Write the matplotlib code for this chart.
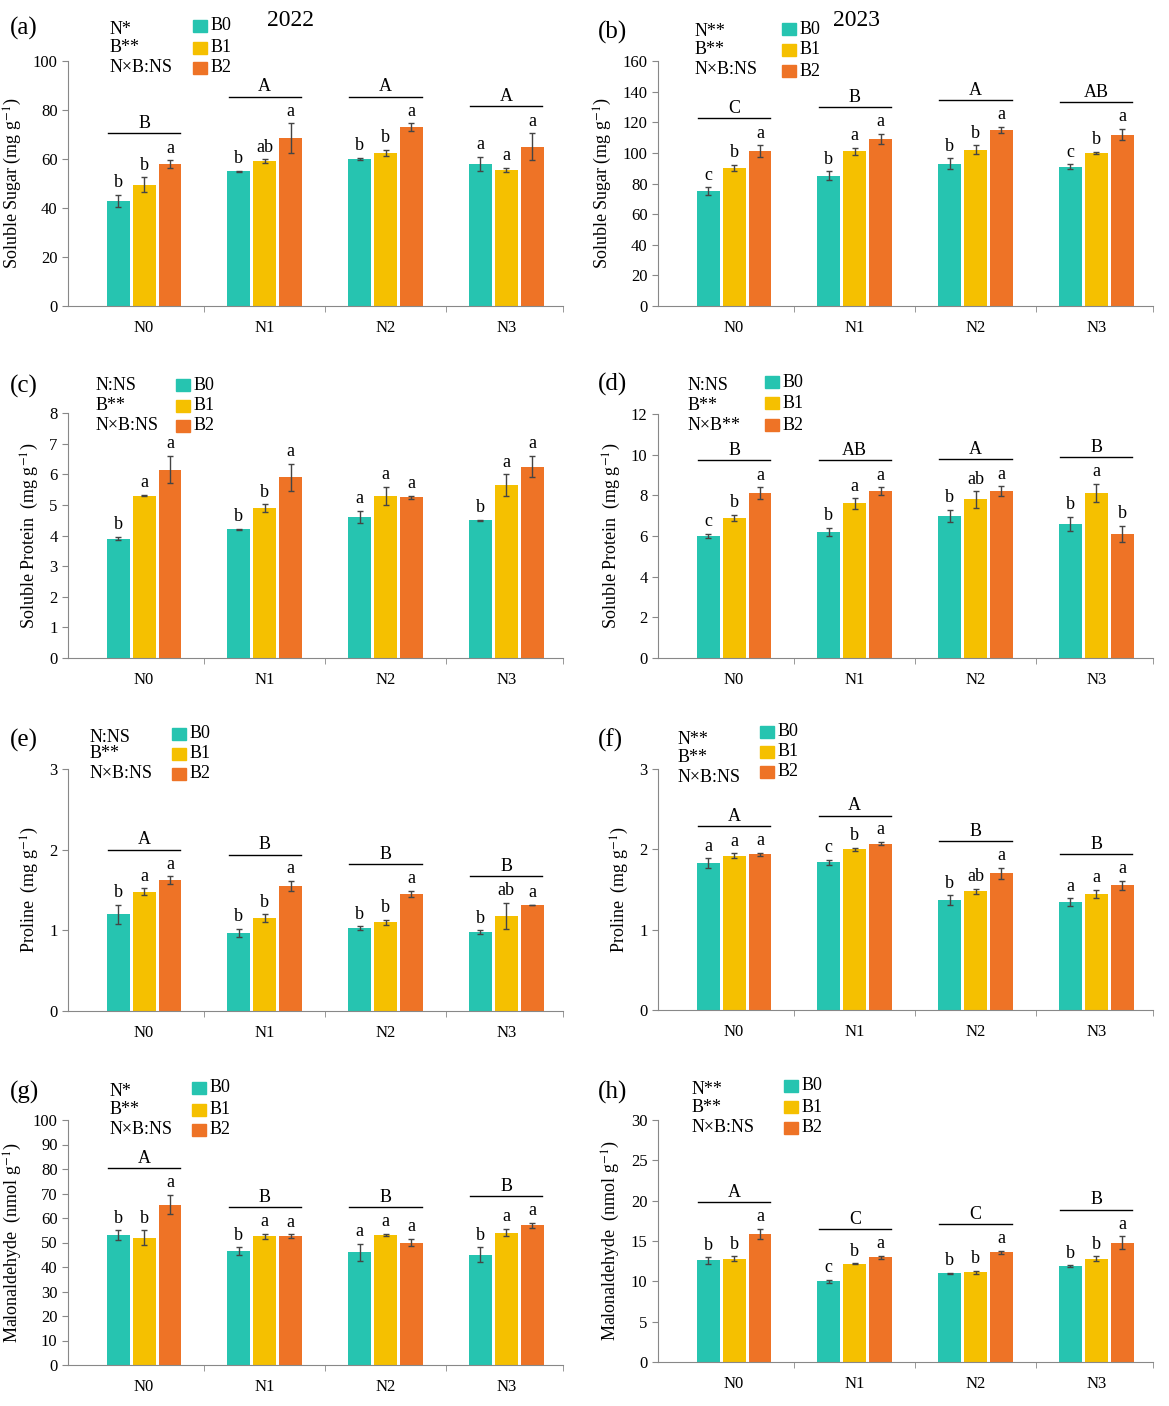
import matplotlib
matplotlib.use("Agg")
import matplotlib.pyplot as plt
import numpy as np
from matplotlib.patches import Rectangle

plt.rcParams['font.family'] = 'Liberation Serif'
plt.rcParams['mathtext.fontset'] = 'stix'

W, H = 1169, 1406
groups = ["N0", "N1", "N2", "N3"]
series = ["B0", "B1", "B2"]
colors = ["#26C4B0", "#F5C000", "#EE7326"]

vals_a = [[43, 49.5, 58], [55, 59, 68.5], [60, 62.5, 73], [58, 55.5, 65]]
errs_a = [[2.5, 3, 1.5], [0.3, 0.8, 6], [0.5, 1.2, 1.5], [3, 1, 5.5]]
let_a = [["b", "b", "a"], ["b", "ab", "a"], ["b", "b", "a"], ["a", "a", "a"]]
grp_a = ["B", "A", "A", "A"]

vals_b = [[75, 90, 101], [85, 101, 109], [93, 102, 115], [91, 100, 112]]
errs_b = [[2.5, 2, 4], [3, 2.5, 3.5], [3.5, 3, 2], [1.5, 0.5, 3.5]]
let_b = [["c", "b", "a"], ["b", "a", "a"], ["b", "b", "a"], ["c", "b", "a"]]
grp_b = ["C", "B", "A", "AB"]

vals_c = [[3.9, 5.3, 6.15], [4.2, 4.9, 5.9], [4.6, 5.3, 5.25], [4.5, 5.65, 6.25]]
errs_c = [[0.05, 0.02, 0.45], [0.02, 0.12, 0.45], [0.2, 0.3, 0.05], [0.02, 0.35, 0.35]]
let_c = [["b", "a", "a"], ["b", "b", "a"], ["a", "a", "a"], ["b", "a", "a"]]
grp_c = None

vals_d = [[6.0, 6.9, 8.1], [6.2, 7.6, 8.2], [7.0, 7.8, 8.2], [6.6, 8.1, 6.1]]
errs_d = [[0.1, 0.15, 0.3], [0.2, 0.25, 0.2], [0.3, 0.4, 0.25], [0.35, 0.45, 0.4]]
let_d = [["c", "b", "a"], ["b", "a", "a"], ["b", "ab", "a"], ["b", "a", "b"]]
grp_d = ["B", "AB", "A", "B"]

vals_e = [[1.2, 1.48, 1.62], [0.97, 1.15, 1.55], [1.03, 1.1, 1.45], [0.98, 1.18, 1.32]]
errs_e = [[0.12, 0.04, 0.05], [0.05, 0.05, 0.06], [0.02, 0.03, 0.04], [0.02, 0.16, 0.0]]
let_e = [["b", "a", "a"], ["b", "b", "a"], ["b", "b", "a"], ["b", "ab", "a"]]
grp_e = ["A", "B", "B", "B"]

vals_f = [[1.83, 1.92, 1.94], [1.84, 2.0, 2.07], [1.37, 1.48, 1.7], [1.34, 1.45, 1.55]]
errs_f = [[0.06, 0.03, 0.02], [0.03, 0.02, 0.02], [0.06, 0.03, 0.07], [0.05, 0.05, 0.06]]
let_f = [["a", "a", "a"], ["c", "b", "a"], ["b", "ab", "a"], ["a", "a", "a"]]
grp_f = ["A", "A", "B", "B"]

vals_g = [[53, 52, 65.5], [46.5, 52.5, 52.5], [46, 53, 50], [45, 54, 57]]
errs_g = [[2, 3, 4], [1.5, 1, 0.8], [3.5, 0.5, 1.5], [3, 1.5, 1]]
let_g = [["b", "b", "a"], ["b", "a", "a"], ["a", "a", "a"], ["b", "a", "a"]]
grp_g = ["A", "B", "B", "B"]

vals_h = [[12.6, 12.8, 15.9], [10, 12.2, 13], [11, 11.1, 13.6], [11.9, 12.8, 14.8]]
errs_h = [[0.4, 0.3, 0.6], [0.15, 0.05, 0.2], [0.05, 0.2, 0.2], [0.1, 0.3, 0.8]]
let_h = [["b", "b", "a"], ["c", "b", "a"], ["b", "b", "a"], ["b", "b", "a"]]
grp_h = ["A", "C", "C", "B"]

stats = {
    "a": ["N*", "B**", "N×B:NS"], "b": ["N**", "B**", "N×B:NS"],
    "c": ["N:NS", "B**", "N×B:NS"], "d": ["N:NS", "B**", "N×B**"],
    "e": ["N:NS", "B**", "N×B:NS"], "f": ["N**", "B**", "N×B:NS"],
    "g": ["N*", "B**", "N×B:NS"], "h": ["N**", "B**", "N×B:NS"],
}
ylabels = {
    "sugar": "Soluble Sugar (mg g$^{-1}$)",
    "protein": "Soluble Protein  (mg g$^{-1}$)",
    "proline": "Proline  (mg g$^{-1}$)",
    "mda": "Malonaldehyde  (nmol g$^{-1}$)",
}

panels = [
    ("a", vals_a, errs_a, let_a, grp_a, "sugar", 100, 20, 68, 61, 306, 110, [30, 48, 67], 193, [26, 48, 68], (10, 28)),
    ("b", vals_b, errs_b, let_b, grp_b, "sugar", 160, 20, 658, 61, 306, 695, [31, 50, 70], 782, [29, 50, 71], (598, 32)),
    ("c", vals_c, errs_c, let_c, grp_c, "protein", 8, 1, 68, 413, 658, 96, [386, 406, 425], 176, [385, 406, 426], (10, 386)),
    ("d", vals_d, errs_d, let_d, grp_d, "protein", 12, 2, 658, 414, 658, 688, [385, 405, 425], 765, [382, 403, 425], (598, 384)),
    ("e", vals_e, errs_e, let_e, grp_e, "proline", 3, 1, 68, 769, 1011, 90, [738, 754, 774], 172, [734, 754, 774], (10, 740)),
    ("f", vals_f, errs_f, let_f, grp_f, "proline", 3, 1, 658, 769, 1010, 678, [740, 758, 777], 760, [732, 752, 772], (598, 740)),
    ("g", vals_g, errs_g, let_g, grp_g, "mda", 100, 10, 68, 1120, 1365, 110, [1092, 1110, 1130], 192, [1088, 1110, 1130], (10, 1092)),
    ("h", vals_h, errs_h, let_h, grp_h, "mda", 30, 5, 658, 1120, 1362, 692, [1090, 1108, 1128], 784, [1086, 1107, 1128], (598, 1092)),
]

fig = plt.figure(figsize=(W / 100, H / 100), dpi=100)

def fx(x): return x / W
def fy(y): return 1 - y / H

bw = 0.19
offs = [-0.215, 0, 0.215]
for (key, vals, errs, lets, grps, yl, ymax, step, left, top, bot, sx, sys_, lx, lys, lab) in panels:
    ax = fig.add_axes([fx(left), fy(bot), 495 / W, (bot - top) / H])
    v = np.array(vals); e = np.array(errs)
    x = np.arange(len(groups))
    for j in range(3):
        ax.bar(x + offs[j], v[:, j], bw, color=colors[j], yerr=e[:, j],
               error_kw=dict(ecolor="#444444", elinewidth=1, capsize=2.5, capthick=1), zorder=2)
        for i in range(4):
            ax.text(x[i] + offs[j], v[i, j] + e[i, j] + 0.015 * ymax, lets[i][j],
                    ha="center", va="bottom", fontsize=13)
    if grps:
        for i in range(4):
            top_v = (v[i] + e[i]).max() + 0.11 * ymax
            ax.plot([x[i] - 0.3, x[i] + 0.3], [top_v, top_v], color="black", lw=1)
            ax.text(x[i], top_v + 0.005 * ymax, grps[i], ha="center", va="bottom", fontsize=13)
    ax.set_xlim(-0.63, 3.47)
    ax.set_ylim(0, ymax)
    ax.set_yticks(np.arange(0, ymax + step / 2, step))
    ax.set_xticks(x)
    ax.set_xticklabels(groups)
    ax.set_xticks([0.5, 1.5, 2.5, 3.47], minor=True)
    ax.tick_params(axis="x", which="major", length=0, pad=10, labelsize=12)
    ax.tick_params(axis="x", which="minor", length=4, direction="out", color="#888888")
    ax.tick_params(axis="y", labelsize=12, length=4, color="#888888")
    for s in ["top", "right"]:
        ax.spines[s].set_visible(False)
    for s in ["left", "bottom"]:
        ax.spines[s].set_color("#888888")
    ax.set_ylabel(ylabels[yl], fontsize=13, labelpad=6)
    for t, yy in zip(stats[key], sys_):
        fig.text(fx(sx), fy(yy), t, fontsize=13, va="center", ha="left")
    for j, yy in enumerate(lys):
        fig.patches.append(Rectangle((fx(lx), fy(yy) - 6 / H), 14 / W, 12 / H,
                                     transform=fig.transFigure, color=colors[j]))
        fig.text(fx(lx + 18), fy(yy), series[j], fontsize=13, va="center", ha="left")
    fig.text(fx(lab[0]), fy(lab[1]), f"({key})", fontsize=18, va="center", ha="left")

fig.text(fx(290), fy(20), "2022", fontsize=17, ha="center", va="center")
fig.text(fx(856), fy(20), "2023", fontsize=17, ha="center", va="center")

fig.savefig("out.png", dpi=100)
